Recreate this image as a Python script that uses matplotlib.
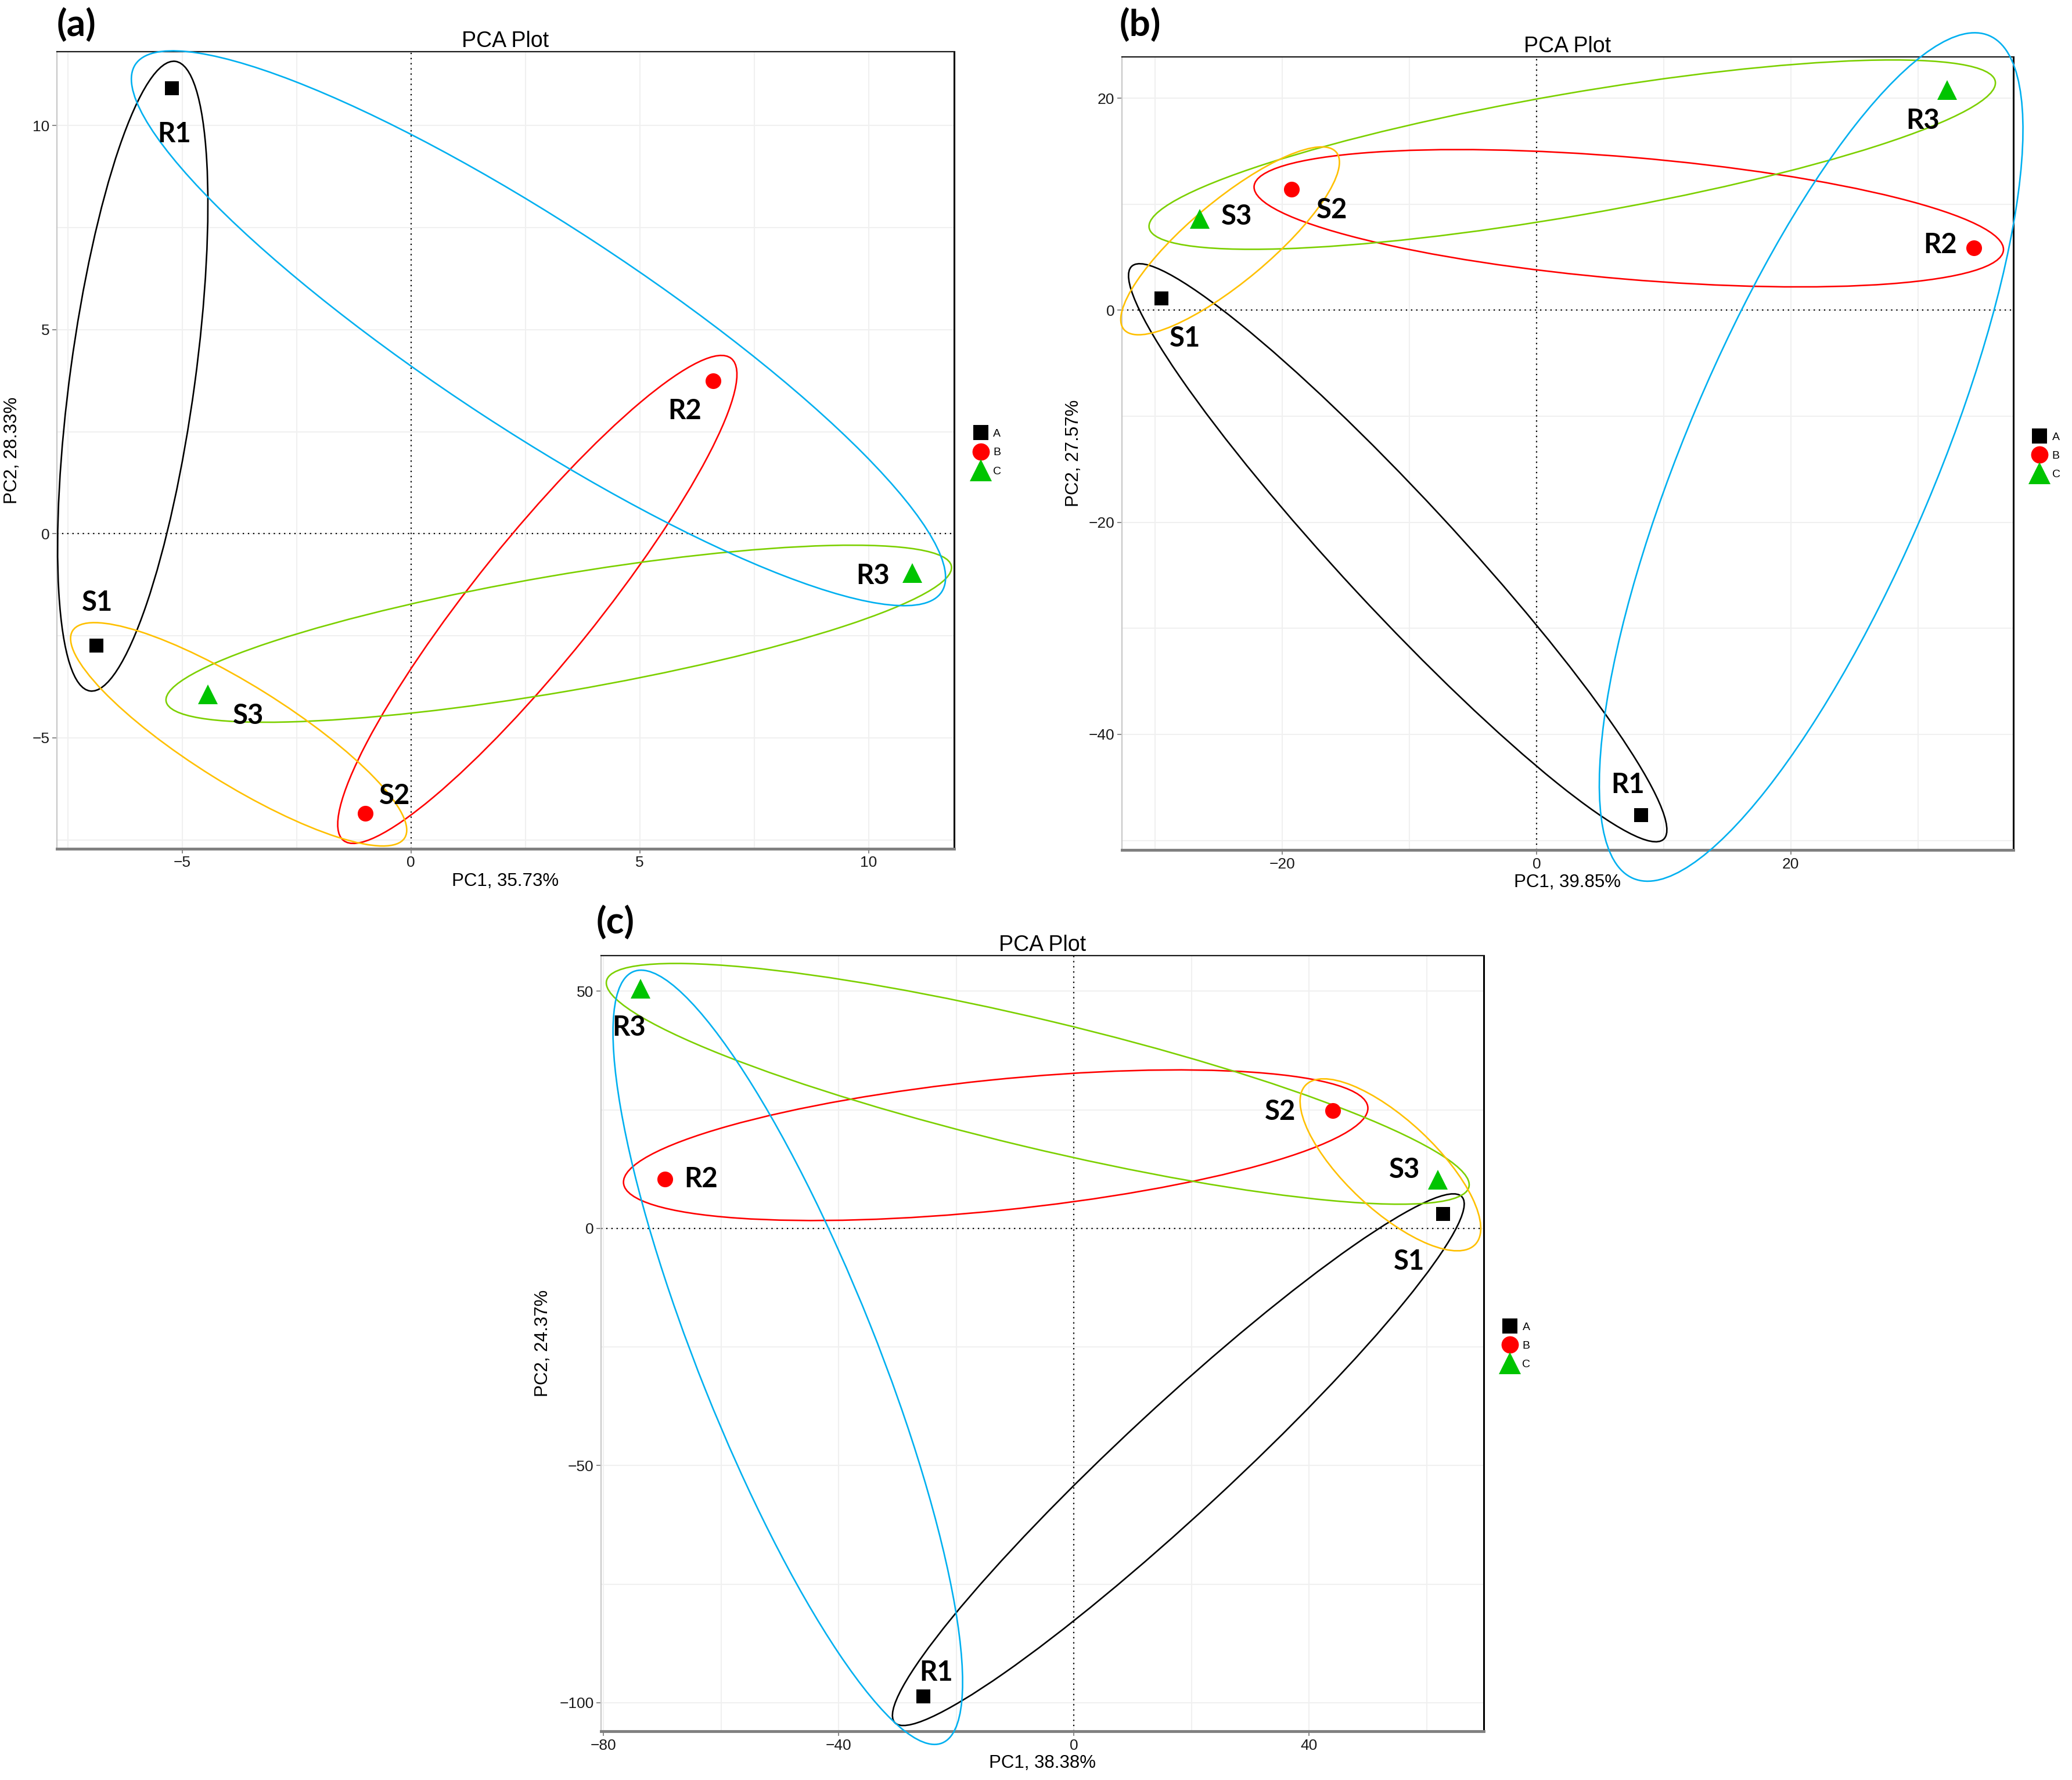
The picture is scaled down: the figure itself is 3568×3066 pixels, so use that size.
import numpy as np
import matplotlib
matplotlib.use("Agg")
import matplotlib.pyplot as plt
from matplotlib.patches import Ellipse
from matplotlib.lines import Line2D
from matplotlib.transforms import IdentityTransform

# ---------------- data ----------------
samples = ["R1", "S1", "R2", "S2", "R3", "S3"]
groups = ["A", "A", "B", "B", "C", "C"]

a_pc1 = [-5.23, -6.88, 6.60, -1.00, 10.96, -4.44]
a_pc2 = [10.91, -2.74, 3.74, -6.85, -0.96, -3.93]
b_pc1 = [8.23, -29.5, 34.4, -19.25, 32.3, -26.5]
b_pc2 = [-47.6, 1.14, 5.9, 11.4, 20.8, 8.6]
c_pc1 = [-25.6, 62.8, -69.5, 44.0, -73.7, 61.9]
c_pc2 = [-98.6, 3.0, 10.4, 24.8, 50.5, 10.3]

panel_tags = ["(a)", "(b)", "(c)"]
x_titles = ["PC1, 35.73%", "PC1, 39.85%", "PC1, 38.38%"]
y_titles = ["PC2, 28.33%", "PC2, 27.57%", "PC2, 24.37%"]
x_ticks = [[-5, 0, 5, 10], [-20, 0, 20], [-80, -40, 0, 40]]
y_ticks = [[-5, 0, 5, 10], [-40, -20, 0, 20], [-100, -50, 0, 50]]
x_lims = [(-7.74, 11.87), (-32.6, 37.5), (-80.4, 69.7)]
y_lims = [(-7.72, 11.81), (-50.9, 23.9), (-106.0, 57.5)]

# ellipse pairs (group outlines) : (first sample, second sample, colour)
ellipse_pairs = [("R1", "S1", "#000000"),
                 ("R2", "S2", "#FF0000"),
                 ("R3", "S3", "#7CD000"),
                 ("R1", "R3", "#00B0F0"),
                 ("S1", "S2", "#FFC000")]

# ---------------- style ----------------
DPI = 100
W, H = 3568, 3066
group_style = {"A": dict(marker="s", color="#000000", ms=17.5),
               "B": dict(marker="o", color="#FF0000", ms=19.5),
               "C": dict(marker="^", color="#00C400", ms=25)}

# axes rectangles in pixels (left, top, right, bottom)
axes_px = [(98, 89, 1643, 1462), (1932, 98, 3467, 1464), (1035, 1646, 2555, 2982)]
tag_px = [(98, 12), (1928, 12), (1027, 1558)]
# ellipse geometry in pixels: (pad beyond first, pad beyond second, minor width, side shift)
ell_geom = [
    [(47, 79, 215, 0), (50, 60, 210, 0), (68, 73, 200, 0), (75, 60, 355, 0), (48, 80, 170, 0)],
    [(57, 75, 195, 0), (51, 65, 210, 0), (84, 88, 210, 0), (106, 114, 430, 30), (84, 100, 140, 0)],
    [(67, 44, 185, 0), (72, 61, 225, 0), (60, 55, 220, 0), (87, 32, 305, 0), (76, 64, 155, 0)],
]
# label offsets in pixels (dx right, dy down)
lab_off = [
    {"R1": (4, 79), "S1": (2, -74), "R2": (-49, 52), "S2": (51, -30), "R3": (-68, 5), "S3": (70, 37)},
    {"R1": (-23, -52), "S1": (41, 69), "R2": (-58, -5), "S2": (69, 36), "R3": (-42, 53), "S3": (64, -4)},
    {"R1": (22, -41), "S1": (-59, 82), "R2": (62, 0), "S2": (-90, 2), "R3": (-20, 67), "S3": (-57, -17)},
]
ylab_x = [-0.040, -0.044, -0.056]

plt.rcParams["font.family"] = ["Liberation Sans", "DejaVu Sans"]
fig = plt.figure(figsize=(W / DPI, H / DPI), dpi=DPI)
px2pt = 72.0 / DPI

data = [(a_pc1, a_pc2), (b_pc1, b_pc2), (c_pc1, c_pc2)]

for k in range(3):
    l, t, r, b = axes_px[k]
    ax = fig.add_axes([l / W, 1 - b / H, (r - l) / W, (b - t) / H])
    xs, ys = data[k]

    # grid: major + minor (ticks first, limits afterwards)
    xt = x_ticks[k]; yt = y_ticks[k]
    dx = xt[1] - xt[0]; dy = yt[1] - yt[0]
    ax.set_xticks(xt)
    ax.set_yticks(yt)
    mx = np.arange(xt[0] - dx / 2, x_lims[k][1], dx)
    my = np.arange(yt[0] - dy / 2, y_lims[k][1], dy)
    ax.set_xticks(mx[(mx > x_lims[k][0]) & (mx < x_lims[k][1])], minor=True)
    ax.set_yticks(my[(my > y_lims[k][0]) & (my < y_lims[k][1])], minor=True)
    ax.set_xlim(*x_lims[k])
    ax.set_ylim(*y_lims[k])
    ax.set_autoscale_on(False)
    ax.grid(True, which="both", color="#F0F0F0", lw=1.5, zorder=0)
    ax.tick_params(which="minor", length=0)
    ax.tick_params(which="major", length=6, width=1.3, color="#808080",
                   labelsize=19, pad=3, labelcolor="#1a1a1a")
    ax.set_axisbelow(True)

    for side, col, lw in [("top", "#1a1a1a", 1.6), ("right", "#000000", 2.2),
                          ("bottom", "#7F7F7F", 3.5), ("left", "#C8C8C8", 1.6)]:
        ax.spines[side].set_color(col)
        ax.spines[side].set_linewidth(lw)

    ax.axhline(0, color="black", ls=(0, (1, 3)), lw=1.6, zorder=1)
    ax.axvline(0, color="black", ls=(0, (1, 3)), lw=1.6, zorder=1)

    ax.set_title("PCA Plot", fontsize=27, pad=5)
    ax.set_xlabel(x_titles[k], fontsize=22.5)
    ax.xaxis.set_label_coords(0.5, -0.030)
    ax.xaxis.label.set_va("top")
    ax.set_ylabel(y_titles[k], fontsize=22.5)
    ax.yaxis.set_label_coords(ylab_x[k], 0.5)

    # points
    for g in ["A", "B", "C"]:
        st = group_style[g]
        gx = [xs[i] for i in range(len(samples)) if groups[i] == g]
        gy = [ys[i] for i in range(len(samples)) if groups[i] == g]
        ax.plot(gx, gy, ls="none", marker=st["marker"], color=st["color"],
                ms=st["ms"], mew=0, zorder=4)

    # labels
    for i, s in enumerate(samples):
        ox, oy = lab_off[k][s]
        ax.annotate(s, (xs[i], ys[i]), xytext=(ox * px2pt, -oy * px2pt),
                    textcoords="offset points", ha="center", va="center",
                    fontsize=34, fontweight="bold", family=["Lato", "DejaVu Sans"],
                    zorder=5, annotation_clip=False)

    # ellipses (outline around each pair of samples), built in pixel space
    idx = {s: i for i, s in enumerate(samples)}
    for (s1, s2, col), (p1, p2, mw, sh) in zip(ellipse_pairs, ell_geom[k]):
        P = ax.transData.transform((xs[idx[s1]], ys[idx[s1]]))
        Q = ax.transData.transform((xs[idx[s2]], ys[idx[s2]]))
        u = (Q - P) / np.hypot(*(Q - P))
        n = np.array([u[1], -u[0]])
        A = P - u * p1
        B = Q + u * p2
        c = (A + B) / 2 + n * sh
        L = np.hypot(*(B - A))
        ang = np.degrees(np.arctan2(u[1], u[0]))
        e = Ellipse(c, L, mw, angle=ang, transform=IdentityTransform(),
                    fill=False, ec=col, lw=1.9, clip_on=False, zorder=3)
        ax.add_artist(e)

    # legend
    handles = [Line2D([], [], ls="none", marker=group_style[g]["marker"],
                      color=group_style[g]["color"], ms=group_style[g]["ms"] * 1.1,
                      mew=0, label=g) for g in ["A", "B", "C"]]
    ax.legend(handles=handles, loc="center left", bbox_to_anchor=(1.022, 0.497),
              frameon=False, fontsize=14, handlelength=1.2, handletextpad=0.5,
              labelspacing=0.75, borderpad=0, borderaxespad=0)

    # panel tag
    tx, ty = tag_px[k]
    fig.text(tx / W, 1 - ty / H, panel_tags[k], fontsize=46, fontweight="bold",
             family=["Lato", "DejaVu Sans"], ha="left", va="top")

fig.savefig("out.png", dpi=DPI, facecolor="white")
